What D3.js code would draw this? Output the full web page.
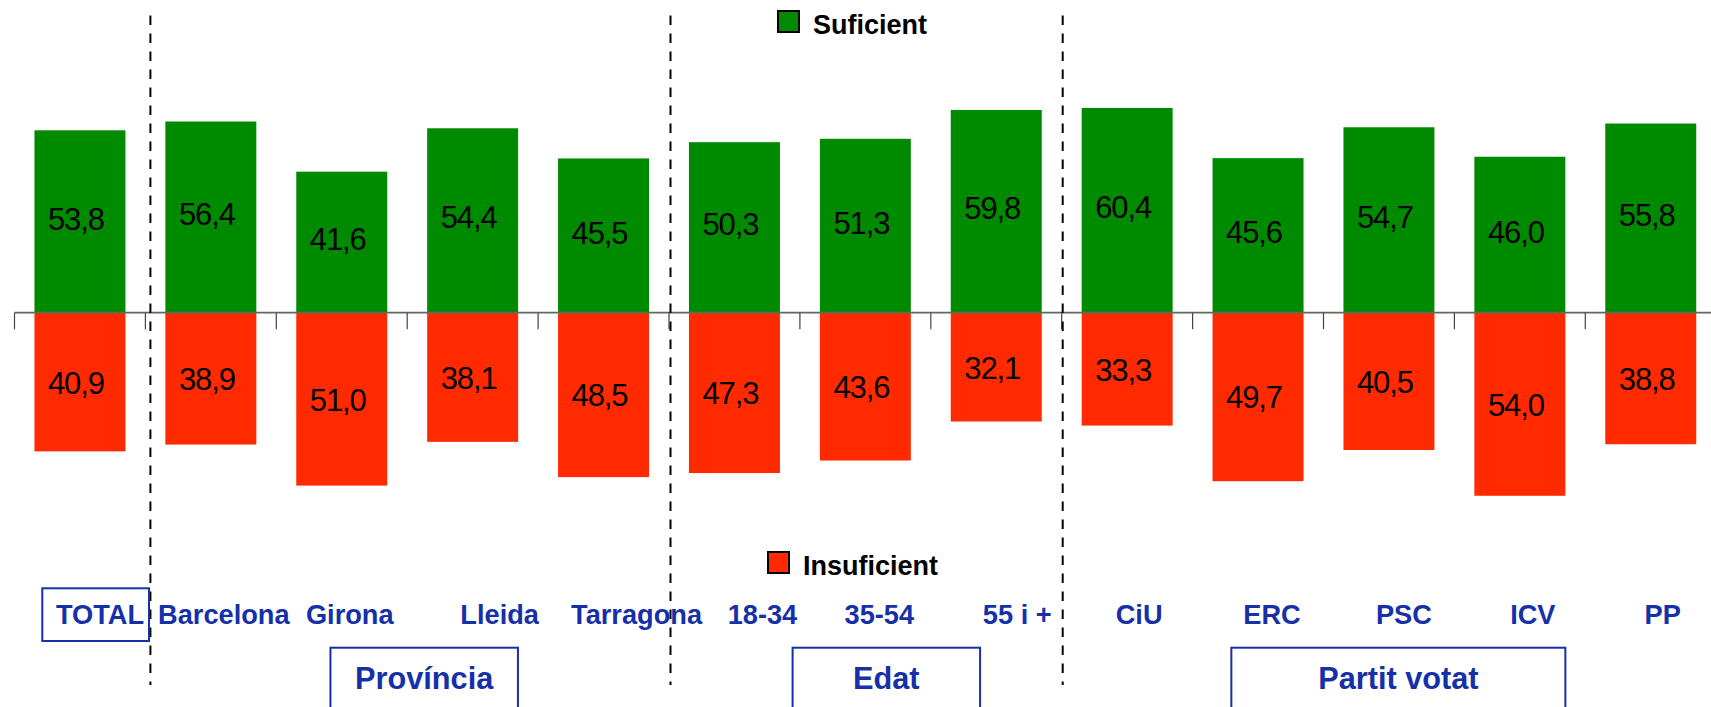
<!DOCTYPE html>
<html>
<head>
<meta charset="utf-8">
<script src="https://cdn.jsdelivr.net/npm/d3@7"></script>
<style>
  html, body { margin: 0; padding: 0; background: #fff; }
  svg { display: block; font-family: "Liberation Sans", Arial, sans-serif; }
</style>
</head>
<body>
<svg id="chart" width="1711" height="707"></svg>
<script>
// Categories and the two series (percentages)
const categories = ["TOTAL", "Barcelona", "Girona", "Lleida", "Tarragona",
                    "18-34", "35-54", "55 i +", "CiU", "ERC", "PSC", "ICV", "PP"];
const suficient   = [53.8, 56.4, 41.6, 54.4, 45.5, 50.3, 51.3, 59.8, 60.4, 45.6, 54.7, 46.0, 55.8];
const insuficient = [40.9, 38.9, 51.0, 38.1, 48.5, 47.3, 43.6, 32.1, 33.3, 49.7, 40.5, 54.0, 38.8];
const seriesNames = ["Suficient", "Insuficient"];

// Groups of categories shown in framed captions under the axis
const groupNames = ["Província", "Edat", "Partit votat"];
const groupFirst = [1, 5, 8];
const groupLast  = [4, 7, 12];

const GREEN = "#008a00";
const RED = "#ff2a00";
const BLUE = "#1530a8";

const svg = d3.select("#chart");

const x = d3.scaleBand()
  .domain(categories)
  .range([14.5, 14.5 + 13 * 130.9])
  .paddingInner(0.305)
  .paddingOuter(0.1525);

const y = d3.scaleLinear()
  .domain([-70, 70])
  .range([312.7 + 70 * 3.39, 312.7 - 70 * 3.39]);

const step = x.step();
const boundary = i => x(categories[0]) - step * x.paddingInner() / 2 + i * step;
const y0 = y(0);

// Bars
const rows = categories.map((c, i) => ({ c, s: suficient[i], n: insuficient[i] }));

svg.append("g").selectAll("rect").data(rows).join("rect")
  .attr("x", d => x(d.c))
  .attr("width", x.bandwidth())
  .attr("y", d => y(d.s))
  .attr("height", d => y0 - y(d.s))
  .attr("fill", GREEN);

svg.append("g").selectAll("rect").data(rows).join("rect")
  .attr("x", d => x(d.c))
  .attr("width", x.bandwidth())
  .attr("y", y0)
  .attr("height", d => y(-d.n) - y0)
  .attr("fill", RED);

// Zero axis with tick marks between categories
svg.append("line")
  .attr("x1", boundary(0)).attr("x2", 1711)
  .attr("y1", y0).attr("y2", y0)
  .attr("stroke", "#5d6b5d").attr("stroke-width", 1.8);

svg.append("g").selectAll("line").data(d3.range(categories.length))
  .join("line")
  .attr("x1", i => boundary(i)).attr("x2", i => boundary(i))
  .attr("y1", y0).attr("y2", y0 + 16.5)
  .attr("stroke", "#3f463f").attr("stroke-width", 1.2);

// Value labels inside bars
const fmt = v => v.toFixed(1).replace(".", ",");
const valueStyle = sel => sel
  .attr("text-anchor", "middle")
  .attr("font-size", 31)
  .attr("letter-spacing", -1.1)
  .attr("fill", "#000");

svg.append("g").selectAll("text").data(rows).join("text")
  .call(valueStyle)
  .attr("x", d => x(d.c) + x.bandwidth() / 2 - 4)
  .attr("y", d => (y(d.s) + y0) / 2 + 8)
  .text(d => fmt(d.s));

svg.append("g").selectAll("text").data(rows).join("text")
  .call(valueStyle)
  .attr("x", d => x(d.c) + x.bandwidth() / 2 - 4)
  .attr("y", d => (y(-d.n) + y0) / 2 + 11.5)
  .text(d => fmt(d.n));

// Dashed separators between groups
const sepShift = [5, 1.5, 1];
groupFirst.forEach((gi, k) => {
  const sx = boundary(gi) + sepShift[k];
  svg.append("line")
    .attr("x1", sx).attr("x2", sx)
    .attr("y1", 15.5).attr("y2", 685)
    .attr("stroke", "#000").attr("stroke-width", 2)
    .attr("stroke-dasharray", "9.5,8.5");
});

// Category labels
const labelShift = [20, 13, 8, 27, 33, 28, 14, 21, 12, 14, 15, 13, 12];
svg.append("g").selectAll("text").data(categories).join("text")
  .attr("x", (c, i) => x(c) + x.bandwidth() / 2 + labelShift[i])
  .attr("y", 624)
  .attr("text-anchor", "middle")
  .attr("font-size", 27.2)
  .attr("font-weight", "bold")
  .attr("fill", BLUE)
  .text(c => c);

// Frame around the TOTAL label
svg.append("rect")
  .attr("x", 42.3).attr("y", 588.3)
  .attr("width", 106.7).attr("height", 52.7)
  .attr("fill", "none").attr("stroke", BLUE).attr("stroke-width", 2);

// Group captions in frames
const groupShift = [17, 21, 9.4];
const groupWidth = [187.5, 187.5, 334];
groupNames.forEach((g, k) => {
  const a = x(categories[groupFirst[k]]) + x.bandwidth() / 2;
  const b = x(categories[groupLast[k]]) + x.bandwidth() / 2;
  const cx = (a + b) / 2 + groupShift[k];
  svg.append("rect")
    .attr("x", cx - groupWidth[k] / 2).attr("y", 647.7)
    .attr("width", groupWidth[k]).attr("height", 80)
    .attr("fill", "none").attr("stroke", BLUE).attr("stroke-width", 2);
  svg.append("text")
    .attr("x", cx).attr("y", 689)
    .attr("text-anchor", "middle")
    .attr("font-size", 30.7)
    .attr("font-weight", "bold")
    .attr("fill", BLUE)
    .text(g);
});

// Legend entries
const legendPos = [{ x: 777, y: 10, ty: 34 }, { x: 767, y: 551, ty: 575 }];
const legendColors = [GREEN, RED];
seriesNames.forEach((name, k) => {
  const p = legendPos[k];
  svg.append("rect")
    .attr("x", p.x + 1).attr("y", p.y + 1)
    .attr("width", 21).attr("height", 21)
    .attr("fill", legendColors[k])
    .attr("stroke", "#000").attr("stroke-width", 2);
  svg.append("text")
    .attr("x", p.x + 36).attr("y", p.ty)
    .attr("font-size", 27)
    .attr("font-weight", "bold")
    .attr("fill", "#000")
    .text(name);
});
</script>
</body>
</html>
